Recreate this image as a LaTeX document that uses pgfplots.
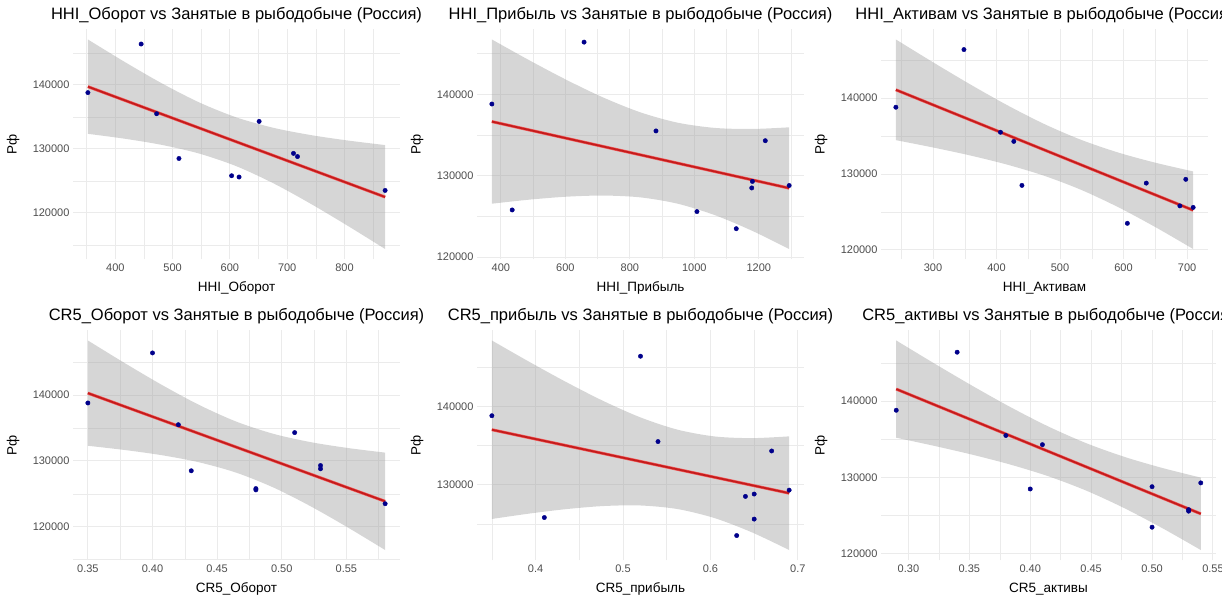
\documentclass[border=0pt]{standalone}
\usepackage{fontspec}
\setmainfont{Liberation Sans}
\usepackage{pgfplots}
\pgfplotsset{compat=1.18}
\usepgfplotslibrary{fillbetween}
\definecolor{gridc}{HTML}{EBEBEB}
\definecolor{tickc}{HTML}{4D4D4D}
\definecolor{ptc}{HTML}{00008B}
\definecolor{bandc}{HTML}{999999}
\definecolor{linec}{HTML}{C41C1C}
\definecolor{haloc}{HTML}{F25A5A}
\pgfplotsset{
 rpanel/.style={
  scale only axis, width=327pt, height=230.5pt, anchor=south west,
  scaled x ticks=false, scaled y ticks=false,
  axis line style={draw=none}, major tick length=0pt, minor tick length=0pt,
  tick style={draw=none},
  xmajorgrids, ymajorgrids, xminorgrids, yminorgrids,
  major grid style={color=gridc, line width=1pt},
  minor grid style={color=gridc, line width=0.5pt},
  ticklabel style={font=\fontsize{11}{13}\selectfont, text=tickc},
  xticklabel style={yshift=-1pt},
  xlabel style={font=\fontsize{13.5}{16}\selectfont, at={(axis description cs:0.5,-0.125)}, anchor=center},
  ylabel style={font=\fontsize{13.5}{16}\selectfont, at={(axis description cs:-0.183,0.5)}, anchor=center},
  title style={font=\fontsize{16.5}{19}\selectfont, at={(axis description cs:0.5,1)}, anchor=center, yshift=8pt},
  ylabel={Рф},
  ytick={120000,130000,140000}, yticklabels={120000,130000,140000},
  minor ytick={115000,125000,135000,145000},
 },
 pts/.style={only marks, mark=*, mark size=2.2pt, mark options={draw=ptc, fill=ptc}},
 bnd/.style={draw=none, smooth},
 bfill/.style={fill=bandc, fill opacity=0.4, draw=none},
 rline/.style={linec, line width=1.8pt, preaction={draw=haloc, line width=3pt}},
}
\begin{document}
\begin{tikzpicture}

% Panel 1
\begin{axis}[rpanel, at={(73pt,341.5pt)},
  xmin=326, xmax=897, ymin=112701, ymax=148753,
  xtick={400,500,600,700,800}, xticklabels={400,500,600,700,800},
  minor xtick={350,450,550,650,750,850},
  title={HHI\_Оборот vs Занятые в рыбодобыче (Россия)}, xlabel={HHI\_Оборот}]
\addplot[pts] coordinates {(352,138800) (445,146400) (472,135500) (511,128500) (603,125800) (616,125600) (651,134300) (711,129300) (718,128800) (871,123500)};
\addplot[bnd, name path=u1] coordinates {(352,147114) (417,143562) (482,140211) (547,137242) (612,134904) (677,133276) (742,132151) (807,131298) (871,130598)};
\addplot[bnd, name path=l1] coordinates {(352,132354) (417,131580) (482,130607) (547,129252) (612,127264) (677,124568) (742,121369) (807,117898) (871,114340)};
\addplot[bfill] fill between[of=u1 and l1];
\addplot[rline] coordinates {(352,139734) (871,122469)};
\end{axis}

% Panel 2
\begin{axis}[rpanel, at={(477pt,341.5pt)},
  xmin=325.9, xmax=1340.1, ymin=119718, ymax=148012,
  xtick={400,600,800,1000,1200}, xticklabels={400,600,800,1000,1200},
  minor xtick={500,700,900,1100,1300},
  title={HHI\_Прибыль vs Занятые в рыбодобыче (Россия)}, xlabel={HHI\_Прибыль}]
\addplot[pts] coordinates {(372,138800) (435,125800) (658,146400) (881,135500) (1008,125600) (1130,123500) (1180,129300) (1178,128500) (1220,134300) (1294,128800)};
\addplot[bnd, name path=u2] coordinates {(372,146726) (487,144195) (603,141772) (718,139591) (833,137777) (948,136512) (1064,135867) (1179,135739) (1294,135942)};
\addplot[bnd, name path=l2] coordinates {(372,126566) (487,127059) (603,127424) (718,127567) (833,127341) (948,126568) (1064,125157) (1179,123245) (1294,121004)};
\addplot[bfill] fill between[of=u2 and l2];
\addplot[rline] coordinates {(372,136646) (1294,128473)};
\end{axis}

% Panel 3
\begin{axis}[rpanel, at={(881pt,341.5pt)},
  xmin=218.1, xmax=733, ymin=118735, ymax=149111,
  xtick={300,400,500,600,700}, xticklabels={300,400,500,600,700},
  minor xtick={250,350,450,550,650},
  title={HHI\_Активам vs Занятые в рыбодобыче (Россия)}, xlabel={HHI\_Активам}]
\addplot[pts] coordinates {(241.5,138800) (348.7,146400) (406.2,135500) (427.2,134300) (440,128500) (606,123500) (635.8,128800) (688.7,125800) (698,129300) (709.6,125600)};
\addplot[bnd, name path=u3] coordinates {(241.5,147730) (300,144727) (358.5,141817) (417,139063) (475.6,136571) (534,134477) (592.6,132804) (651,131471) (709.6,130342)};
\addplot[bnd, name path=l3] coordinates {(241.5,134460) (300,133497) (358.5,132443) (417,131231) (475.6,129751) (534,127885) (592.6,125586) (651,122961) (709.6,120116)};
\addplot[bfill] fill between[of=u3 and l3];
\addplot[rline] coordinates {(241.5,141095) (709.6,125229)};
\end{axis}

% Panel 4
\begin{axis}[rpanel, at={(73pt,40.5pt)},
  xmin=0.3385, xmax=0.5915, ymin=114875, ymax=149884,
  xtick={0.35,0.40,0.45,0.50,0.55}, xticklabels={0.35,0.40,0.45,0.50,0.55},
  minor xtick={0.375,0.425,0.475,0.525,0.575},
  title={CR5\_Оборот vs Занятые в рыбодобыче (Россия)}, xlabel={CR5\_Оборот}]
\addplot[pts] coordinates {(0.35,138800) (0.40,146400) (0.42,135500) (0.43,128500) (0.48,125800) (0.48,125600) (0.51,134300) (0.53,129300) (0.53,128800) (0.58,123500)};
\addplot[bnd, name path=u4] coordinates {(0.35,148293) (0.379,144801) (0.4075,141518) (0.436,138511) (0.465,135956) (0.494,134091) (0.5225,132849) (0.551,131964) (0.58,131260)};
\addplot[bnd, name path=l4] coordinates {(0.35,132297) (0.379,131645) (0.4075,130856) (0.436,129791) (0.465,128202) (0.494,125923) (0.5225,123093) (0.551,119906) (0.58,116466)};
\addplot[bfill] fill between[of=u4 and l4];
\addplot[rline] coordinates {(0.35,140295) (0.58,123863)};
\end{axis}

% Panel 5
\begin{axis}[rpanel, at={(477pt,40.5pt)},
  xmin=0.333, xmax=0.707, ymin=120314, ymax=149748,
  ytick={130000,140000}, yticklabels={130000,140000},
  minor ytick={125000,135000,145000},
  xtick={0.4,0.5,0.6,0.7}, xticklabels={0.4,0.5,0.6,0.7},
  minor xtick={0.35,0.45,0.55,0.65},
  title={CR5\_прибыль vs Занятые в рыбодобыче (Россия)}, xlabel={CR5\_прибыль}]
\addplot[pts] coordinates {(0.35,138800) (0.41,125800) (0.52,146400) (0.54,135500) (0.63,123500) (0.64,128500) (0.65,128800) (0.65,125600) (0.67,134300) (0.69,129300)};
\addplot[bnd, name path=u5] coordinates {(0.35,148410) (0.3925,145701) (0.435,143100) (0.4775,140681) (0.52,138583) (0.5625,137016) (0.605,136152) (0.6475,135940) (0.69,136166)};
\addplot[bnd, name path=l5] coordinates {(0.35,125618) (0.3925,126299) (0.435,126874) (0.4775,127267) (0.52,127339) (0.5625,126880) (0.605,125718) (0.6475,123904) (0.69,121652)};
\addplot[bfill] fill between[of=u5 and l5];
\addplot[rline] coordinates {(0.35,137014) (0.69,128909)};
\end{axis}

% Panel 6
\begin{axis}[rpanel, at={(881pt,40.5pt)}, width=335pt,
  xmin=0.2775, xmax=0.5525, ymin=119143, ymax=149306,
  xtick={0.30,0.35,0.40,0.45,0.50,0.55}, xticklabels={0.30,0.35,0.40,0.45,0.50,0.55},
  minor xtick={0.325,0.375,0.425,0.475,0.525},
  ylabel style={at={(axis description cs:-0.179,0.5)}},
  title={CR5\_активы vs Занятые в рыбодобыче (Россия)}, xlabel={CR5\_активы}]
\addplot[pts] coordinates {(0.29,138800) (0.34,146400) (0.38,135500) (0.40,128500) (0.41,134300) (0.50,123500) (0.50,128800) (0.53,125800) (0.53,125600) (0.54,129300)};
\addplot[bnd, name path=u6] coordinates {(0.29,147935) (0.32125,144927) (0.3525,142000) (0.38375,139214) (0.415,136667) (0.44625,134477) (0.4775,132693) (0.50875,131237) (0.54,129990)};
\addplot[bnd, name path=l6] coordinates {(0.29,135211) (0.32125,134139) (0.3525,132986) (0.38375,131692) (0.415,130159) (0.44625,128269) (0.4775,125971) (0.50875,123347) (0.54,120514)};
\addplot[bfill] fill between[of=u6 and l6];
\addplot[rline] coordinates {(0.29,141573) (0.54,125252)};
\end{axis}

\pgfresetboundingbox
\path[use as bounding box] (0,0) rectangle (1222pt,601pt);
\end{tikzpicture}
\end{document}
